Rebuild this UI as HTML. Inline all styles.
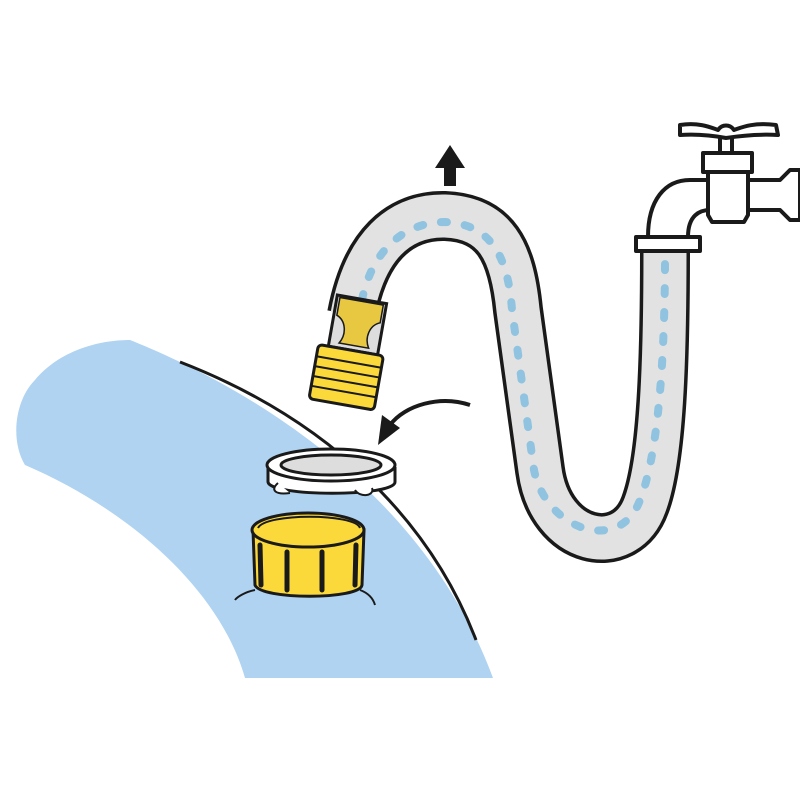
<!DOCTYPE html>
<html><head><style>html,body{margin:0;padding:0;background:#fff}svg{display:block}</style></head>
<body>
<svg width="800" height="800" viewBox="0 0 800 800" xmlns="http://www.w3.org/2000/svg">
<rect width="800" height="800" fill="#fff"/>
<!-- blue tank -->
<path d="M130,340 C230,380 420,480 493,678 L245,678 C220,590 130,510 25,465 C10,440 15,400 35,380 C60,350 100,340 130,340 Z" fill="#afd3f1"/>
<path d="M180,362 C330,420 430,520 476,640" fill="none" stroke="#1a1a1a" stroke-width="3"/>
<!-- hose -->
<path id="h" d="M352,315 C365,245 400,215 445,216 C495,218 512,250 518,310 L540,470 C550,545 625,560 645,505 C662,460 665,360 665,250" fill="none" stroke="#1a1a1a" stroke-width="50"/>
<path d="M352,315 C365,245 400,215 445,216 C495,218 512,250 518,310 L540,470 C550,545 625,560 645,505 C662,460 665,360 665,250" fill="none" stroke="#e2e2e2" stroke-width="43"/>
<path d="M362,300 C372,250 405,222 445,222 C490,224 508,255 512,310 L534,470 C546,530 620,555 640,500 C658,455 665,360 665,255" fill="none" stroke="#8fc3e0" stroke-width="8" stroke-linecap="round" stroke-dasharray="6,18"/>
<!-- faucet -->
<g fill="#fff" stroke="#1a1a1a" stroke-width="4" stroke-linejoin="round">
<path d="M748,180 L780,180 L790,170 L800,170 L800,220 L790,220 L780,210 L748,210 Z"/>
<path d="M710,180 L690,180 C665,180 648,200 648,237 L688,237 C688,215 700,210 710,210 Z"/>
<path d="M708,172 L748,172 L748,215 L744,222 L712,222 L708,215 Z"/>
<rect x="703" y="153" width="49" height="19"/>
<rect x="720" y="135" width="12" height="18"/>
<path d="M680,125 C700,122 712,128 718,130 C722,124 730,124 734,130 C740,128 752,122 776,125 L778,135 C760,134 745,135 726,138 C710,135 695,134 680,135 Z"/>
<rect x="636" y="237" width="64" height="14"/>
</g>
<!-- up arrow -->
<path d="M450,145 L465,168 L456,168 L456,186 L444,186 L444,168 L435,168 Z" fill="#1a1a1a"/>
<!-- fitting -->
<g transform="rotate(10 350 350)" stroke="#1a1a1a" stroke-width="3">
<rect x="328" y="298" width="50" height="52" fill="#ddd"/>
<path d="M331,300 L375,300 L375,318 C365,322 362,335 368,345 L338,345 C344,335 341,322 331,318 Z" fill="#e8c840" stroke-width="1.5"/>
<rect x="318" y="350" width="66" height="55" rx="4" fill="#fbd93a"/>
<g stroke-width="2"><line x1="318" y1="362" x2="384" y2="362"/><line x1="318" y1="372" x2="384" y2="372"/><line x1="318" y1="382" x2="384" y2="382"/><line x1="318" y1="392" x2="384" y2="392"/></g>
</g>
<!-- curved arrow -->
<path d="M470,405 C440,395 405,405 390,425" fill="none" stroke="#1a1a1a" stroke-width="4"/>
<path d="M378,445 L382,415 L400,428 Z" fill="#1a1a1a"/>
<!-- ring -->
<g stroke="#1a1a1a" stroke-width="3">
<path d="M268,467 L268,482 C270,497 395,497 395,482 L395,467" fill="#fff"/>
<ellipse cx="331" cy="465" rx="64" ry="16" fill="#fff"/>
<ellipse cx="331" cy="465" rx="50" ry="10" fill="#ddd"/>
<path d="M278,483 C270,490 275,495 290,493" fill="#fff" stroke-width="2"/>
<path d="M355,490 C360,498 375,496 372,488" fill="#fff" stroke-width="2"/>
</g>
<!-- cap -->
<g stroke="#1a1a1a" stroke-width="3">
<path d="M253,530 L255,585 C260,600 360,600 362,585 L364,530 Z" fill="#fbd93a"/>
<ellipse cx="308" cy="530" rx="56" ry="17" fill="#fbd93a"/>
<path d="M258,528 C265,513 355,513 360,528" fill="none" stroke-width="2"/>
<path d="M255,590 C245,592 237,597 235,600 M360,590 C368,593 373,598 375,605" fill="none" stroke-width="2"/>
</g>
<g stroke="#1a1a1a" stroke-width="5" stroke-linecap="round">
<line x1="260" y1="545" x2="261" y2="585"/><line x1="287" y1="552" x2="287" y2="590"/><line x1="322" y1="552" x2="322" y2="590"/><line x1="356" y1="545" x2="355" y2="585"/>
</g>
</svg>
</body></html>
